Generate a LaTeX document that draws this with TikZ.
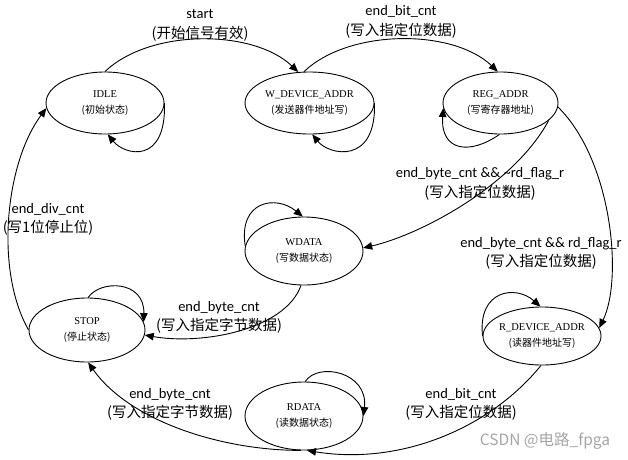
\documentclass[tikz,border=0pt]{standalone}
\usepackage{fontspec}
\setmainfont{Carlito}
\newfontfamily\cjkf{Noto Sans CJK SC}
\newfontfamily\serf{Liberation Serif}
\usetikzlibrary{shapes.geometric,arrows.meta}
\definecolor{wmgray}{RGB}{165,165,165}
\newcommand\stnm[1]{\makebox[0pt]{\serf #1}}
\newcommand\stcn[1]{\makebox[0pt]{\cjkf\fontsize{10}{16}\selectfont #1}}
\newcommand\lcn[1]{{\cjkf #1}}
\begin{document}
\begin{tikzpicture}[x=1pt,y=-1pt,
  state/.style={draw, ellipse, line width=0.9pt, inner sep=0pt, align=center, font=\fontsize{10.5}{16}\selectfont},
  tr/.style={draw, line width=0.9pt, -{Triangle[length=9pt,width=7.5pt]}},
  lbl/.style={align=center, inner sep=0pt, font=\fontsize{14.5}{19.5}\selectfont}]
\useasboundingbox (0,0) rectangle (628,459);

\node[state, minimum width=118pt, minimum height=62pt] (idle) at (105,103) {\stnm{IDLE}\\\stcn{(初始状态)}};
\node[state, minimum width=129pt, minimum height=62pt] (wda) at (309.5,103) {\stnm{W\_DEVICE\_ADDR}\\\stcn{(发送器件地址写)}};
\node[state, minimum width=115pt, minimum height=62pt] (reg) at (500.5,103) {\stnm{REG\_ADDR}\\\stcn{(写寄存器地址)}};
\node[state, minimum width=118pt, minimum height=68pt] (wd) at (304,251) {\stnm{WDATA}\\\stcn{(写数据状态)}};
\node[state, minimum width=116pt, minimum height=64pt] (stop) at (87,330) {\stnm{STOP}\\\stcn{(停止状态)}};
\node[state, minimum width=118pt, minimum height=58pt] (rda) at (542,336) {\stnm{R\_DEVICE\_ADDR}\\\stcn{(读器件地址写)}};
\node[state, minimum width=118pt, minimum height=68pt] (rd) at (304,416) {\stnm{RDATA}\\\stcn{(读数据状态)}};

% transitions
\draw[tr] (idle.north) .. controls +(45,-43) and +(-45,-43) .. (wda.110);
\draw[tr] (wda.100) .. controls +(45,-43) and +(-45,-43) .. (reg.95);
\draw[tr] (idle.east) .. controls +(2,62) and +(17,21) .. (idle.-85);
\draw[tr] (wda.east) .. controls +(2,62) and +(17,21) .. (wda.-85);
\draw[tr] (reg.-92) .. controls +(-30,21) and +(-3,43) .. (reg.185);
\draw[tr] (reg.-20) .. controls +(-35,65) and +(57,-13) .. (wd.3);
\draw[tr] (reg.-4) .. controls +(54,53) and +(24,-49) .. (rda.8);
\draw[tr] (wd.175) .. controls +(-7,-45) and +(-27,-22) .. (wd.92);
\draw[tr] (wd.-95) .. controls +(-16,45) and +(56,10) .. (stop.-5);
\draw[tr] (stop.88) .. controls +(12,-18) and +(1,-42) .. (stop.8);
\draw[tr] (stop.west) .. controls +(-34,-60) and +(-41,55) .. (idle.185);
\draw[tr] (rd.88) .. controls +(13,-20) and +(5,-44) .. (rd.east);
\draw[tr] (rda.west) .. controls +(-5,-46) and +(-25,-22) .. (rda.93);
\draw[tr] (rda.-92) .. controls +(-52,64) and +(92,15) .. (rd.-85);
\draw[tr] (rd.-95) .. controls +(-81,0) and +(41,58) .. (stop.-88);

% labels
\node[lbl] (l1) at (200,25.5) {start\\\lcn{(开始信号有效)}};
\node[lbl] (l2) at (401,22) {end\_bit\_cnt\\\lcn{(写入指定位数据)}};
\node[lbl] (l3) at (480,184) {end\_byte\_cnt \&\& \textasciitilde rd\_flag\_r\\\lcn{(写入指定位数据)}};
\node[lbl] (l4) at (541,253.5) {end\_byte\_cnt \&\& rd\_flag\_r\\\lcn{(写入指定位数据)}};
\node[lbl] (l5) at (48,219.5) {end\_div\_cnt\\\lcn{(写1位停止位)}};
\node[lbl] (l6) at (219,317.5) {end\_byte\_cnt\\\lcn{(写入指定字节数据)}};
\node[lbl] (l7) at (170,404.5) {end\_byte\_cnt\\\lcn{(写入指定字节数据)}};
\node[lbl] (l8) at (461,404.5) {end\_bit\_cnt\\\lcn{(写入指定位数据)}};
\node[font=\cjkf\fontsize{15.5}{15.5}\selectfont, text=wmgray, inner sep=0pt] (wm) at (545,441) {CSDN @电路\_fpga};
\end{tikzpicture}
\end{document}
